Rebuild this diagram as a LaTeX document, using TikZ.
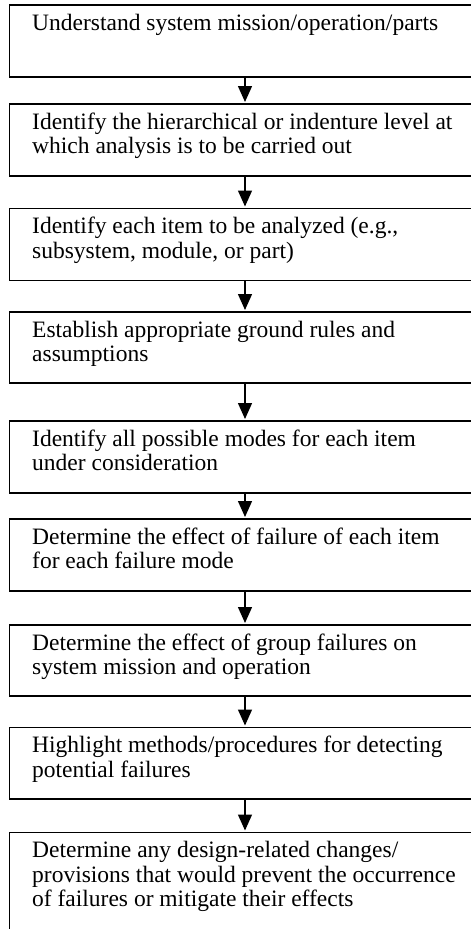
\documentclass[tikz,border=0pt]{standalone}
\usepackage{fontspec}
\setmainfont{Liberation Serif}
\usetikzlibrary{arrows.meta}
\begin{document}
\begin{tikzpicture}[x=1pt,y=-1pt,
  stepbox/.style={draw, line width=1.6pt, anchor=north west, minimum width=471pt,
    inner sep=0pt, outer sep=0pt},
  steptext/.style={anchor=north west, inner sep=0pt, align=left,
    font=\fontsize{23.5}{24.6}\selectfont},
  flow/.style={-{Triangle[length=16pt,width=14pt]}, line width=1.4pt, shorten >=2pt}]
\useasboundingbox (0,0) rectangle (471,929);
\clip (0,0) rectangle (471,929);

% step boxes (right and last bottom edge run off the page)
\node[stepbox, minimum height=72pt]  (b1) at (9.5,5)     {};
\node[stepbox, minimum height=72pt]  (b2) at (9.5,104)   {};
\node[stepbox, minimum height=72pt]  (b3) at (9.5,208.5) {};
\node[stepbox, minimum height=71pt]  (b4) at (9.5,312)   {};
\node[stepbox, minimum height=72pt]  (b5) at (9.5,421)   {};
\node[stepbox, minimum height=72pt]  (b6) at (9.5,519)   {};
\node[stepbox, minimum height=71pt]  (b7) at (9.5,625)   {};
\node[stepbox, minimum height=71.5pt] (b8) at (9.5,727.5) {};
\node[stepbox, minimum height=120pt] (b9) at (9.5,832.5) {};

% step texts
\node[steptext] (t1) at ([xshift=22.5pt,yshift=-7.6pt]b1.north west)
  {\strut Understand system mission/operation/parts};
\node[steptext] (t2) at ([xshift=22.5pt,yshift=-7.6pt]b2.north west)
  {\strut Identify the hierarchical or indenture level at\\which analysis is to be carried out};
\node[steptext] (t3) at ([xshift=22.5pt,yshift=-7.6pt]b3.north west)
  {\strut Identify each item to be analyzed (e.g.,\\subsystem, module, or part)};
\node[steptext] (t4) at ([xshift=22.5pt,yshift=-7.6pt]b4.north west)
  {\strut Establish appropriate ground rules and\\assumptions};
\node[steptext] (t5) at ([xshift=22.5pt,yshift=-7.6pt]b5.north west)
  {\strut Identify all possible modes for each item\\under consideration};
\node[steptext] (t6) at ([xshift=22.5pt,yshift=-7.6pt]b6.north west)
  {\strut Determine the effect of failure of each item\\for each failure mode};
\node[steptext] (t7) at ([xshift=22.5pt,yshift=-7.6pt]b7.north west)
  {\strut Determine the effect of group failures on\\system mission and operation};
\node[steptext] (t8) at ([xshift=22.5pt,yshift=-7.6pt]b8.north west)
  {\strut Highlight methods/procedures for detecting\\potential failures};
\node[steptext] (t9) at ([xshift=22.5pt,yshift=-7.6pt]b9.north west)
  {\strut Determine any design-related changes/\\provisions that would prevent the occurrence\\of failures or mitigate their effects};

% connectors
\draw[flow] (b1.south) -- (b2.north);
\draw[flow] (b2.south) -- (b3.north);
\draw[flow] (b3.south) -- (b4.north);
\draw[flow] (b4.south) -- (b5.north);
\draw[flow] (b5.south) -- (b6.north);
\draw[flow] (b6.south) -- (b7.north);
\draw[flow] (b7.south) -- (b8.north);
\draw[flow] (b8.south) -- (b9.north);
\end{tikzpicture}
\end{document}
